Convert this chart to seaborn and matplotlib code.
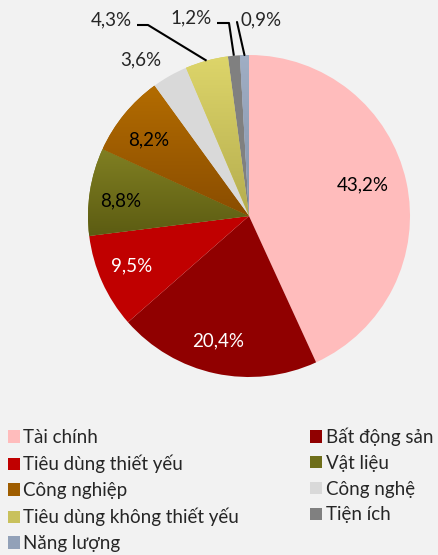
import numpy as np
import matplotlib
matplotlib.use("Agg")
import matplotlib.pyplot as plt
import seaborn as sns
from matplotlib.patches import Patch

sns.set_theme(style="white")
plt.rcParams['font.family'] = ['Lato', 'Noto Sans', 'DejaVu Sans']

# data (clockwise from 12 o'clock)
sectors = ["Tài chính", "Bất động sản", "Tiêu dùng thiết yếu", "Vật liệu",
           "Công nghiệp", "Công nghệ", "Tiêu dùng không thiết yếu",
           "Tiện ích", "Năng lượng"]
shares = [43.2, 20.4, 9.5, 8.8, 8.2, 3.6, 4.3, 1.2, 0.9]
labels = ["43,2%", "20,4%", "9,5%", "8,8%", "8,2%", "3,6%", "4,3%", "1,2%", "0,9%"]

colors = ["#ffbcbc", "#900000", "#c00000", "#727219", "#a16000",
          "#d9d9d9", "#d2ca60", "#808080", "#95a3b8"]
# top / bottom of gradient fill for some slices
grads = {3: ("#807f22", "#5c5c12"), 4: ("#b36c00", "#8a4d00"),
         6: ("#ddd56a", "#b5ad4e"), 8: ("#a0aec4", "#8494ac")}
txt_colors = ["black", "white", "white", "black", "black",
              "black", "black", "black", "black"]

bg = "#f2f2f2"
W, H = 439, 555
fig = plt.figure(figsize=(W / 100, H / 100), dpi=100, facecolor=bg)
cx, cy, r = 249, 216, 161
ax = fig.add_axes([(cx - r) / W, (H - cy - r) / H, 2 * r / W, 2 * r / H])
ax.set_facecolor(bg)
ax.axis("off")

wedges, _ = ax.pie(shares, colors=colors, startangle=90, counterclock=False,
                   radius=1, wedgeprops=dict(linewidth=0))
ax.set_xlim(-1, 1)
ax.set_ylim(-1, 1)

# gradient fills clipped to the wedge
for i, (c_top, c_bot) in grads.items():
    w = wedges[i]
    verts = w.get_path().vertices
    x0, x1 = verts[:, 0].min(), verts[:, 0].max()
    y0, y1 = verts[:, 1].min(), verts[:, 1].max()
    top = np.array(matplotlib.colors.to_rgb(c_top))
    bot = np.array(matplotlib.colors.to_rgb(c_bot))
    t = np.linspace(0, 1, 100)[:, None]
    img = (top * (1 - t) + bot * t)[:, None, :]
    im = ax.imshow(img, extent=[x0, x1, y0, y1], aspect="auto", zorder=w.get_zorder() + 0.1)
    im.set_clip_path(w)

fs = 13.5
mids = [np.deg2rad((w.theta1 + w.theta2) / 2) for w in wedges]

# inside labels: (radius fraction, angle shift in degrees)
inside = [(0.73, 3), (0.80, -2), (0.79, -1), (0.80, 2), (0.78, 2)]
for i, (d, da) in enumerate(inside):
    a = mids[i] + np.deg2rad(da)
    ax.text(d * np.cos(a), d * np.sin(a), labels[i],
            ha="center", va="center", fontsize=fs, color=txt_colors[i])


def px(x, y):
    return (x - cx) / r, (cy - y) / r


# outside labels
ax.text(*px(141, 60), labels[5], ha="center", va="center", fontsize=fs)

for i, tx, elbow, end in [(6, (111, 20), (148, 25), (137, 25)),
                          (7, (191, 18), (229, 23), (217, 23))]:
    ex, ey = np.cos(mids[i]), np.sin(mids[i])
    bx, by = px(*elbow)
    hx, hy = px(*end)
    ax.plot([ex, bx, hx], [ey, by, hy], color="black", lw=1.5, clip_on=False,
            solid_capstyle="butt")
    ax.text(*px(*tx), labels[i], ha="center", va="center", fontsize=fs)

ex, ey = np.cos(mids[8]), np.sin(mids[8])
ax.plot([ex, px(237, 22)[0]], [ey, px(237, 22)[1]], color="black", lw=1.5,
        clip_on=False)
ax.text(*px(261, 20), labels[8], ha="center", va="center", fontsize=fs)

# legend, row-major in two columns
handles = [Patch(facecolor=colors[i] if i not in grads else
                 np.mean([matplotlib.colors.to_rgb(c) for c in grads[i]], axis=0),
                 edgecolor="none", label=sectors[i]) for i in range(len(sectors))]
order = [0, 2, 4, 6, 8, 1, 3, 5, 7]
fig.legend([handles[i] for i in order], [sectors[i] for i in order],
           ncol=2, loc="upper left", bbox_to_anchor=(0.0, 1 - 420 / H),
           frameon=False, fontsize=fs, handlelength=0.64, handleheight=0.64,
           handletextpad=0.2, labelspacing=0.47, columnspacing=3.8,
           borderaxespad=0, borderpad=0.4)

fig.savefig("out.png", dpi=100, facecolor=bg)
